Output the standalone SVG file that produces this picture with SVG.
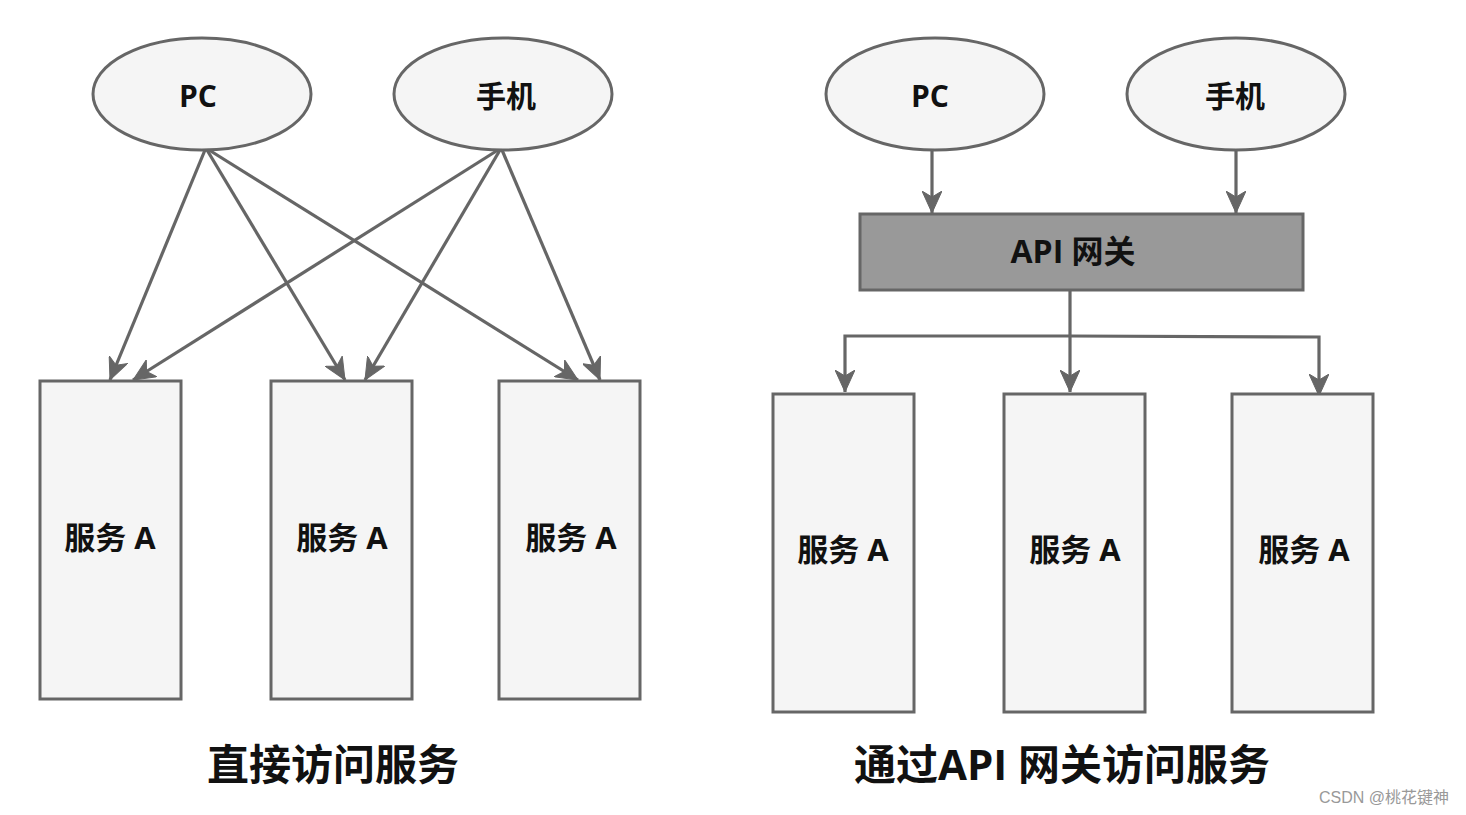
<svg xmlns="http://www.w3.org/2000/svg" width="1466" height="815" viewBox="0 0 1466 815">
<style>
.node{fill:#f5f5f5;stroke:#666666;stroke-width:3}
.gw{fill:#999999;stroke:#666666;stroke-width:3}
.t{font-family:"Open Sans","Noto Sans CJK SC",sans-serif;font-weight:bold;fill:#111111;text-anchor:middle;dominant-baseline:central}
.ln{fill:none;stroke:#666666;stroke-width:3.2}
.title{font-family:"Open Sans","Noto Sans CJK SC",sans-serif;font-weight:bold;font-size:42px;fill:#111111;text-anchor:middle;dominant-baseline:central}
</style>
<defs>
<marker id="ah" markerUnits="userSpaceOnUse" markerWidth="24" markerHeight="20" refX="22" refY="10" orient="auto" viewBox="0 0 24 20">
<path d="M0,0 L22,10 L0,20 L6,10 z" fill="#666666" stroke="#666666" stroke-width="1"/>
</marker>
</defs>
<rect width="1466" height="815" fill="#ffffff"/>
<g id="connectors">
<line class="ln" x1="205" y1="150" x2="110" y2="380" marker-end="url(#ah)"/>
<line class="ln" x1="207" y1="150" x2="345" y2="380" marker-end="url(#ah)"/>
<line class="ln" x1="209" y1="150" x2="578" y2="380" marker-end="url(#ah)"/>
<line class="ln" x1="498" y1="150" x2="133" y2="380" marker-end="url(#ah)"/>
<line class="ln" x1="500" y1="150" x2="365" y2="380" marker-end="url(#ah)"/>
<line class="ln" x1="502" y1="150" x2="600" y2="380" marker-end="url(#ah)"/>
<line class="ln" x1="932" y1="150" x2="932" y2="213" marker-end="url(#ah)"/>
<line class="ln" x1="1236" y1="150" x2="1236" y2="213" marker-end="url(#ah)"/>
<line class="ln" x1="1070" y1="290" x2="1070" y2="392" marker-end="url(#ah)"/>
<polyline class="ln" points="1070,336 845,336 845,392" marker-end="url(#ah)"/>
<polyline class="ln" points="1070,336 1319,337 1319,396" marker-end="url(#ah)"/>
</g>
<g id="pc-left"><ellipse class="node" cx="202" cy="94" rx="109" ry="56"/><text class="t" x="198" y="95" font-size="30">PC</text></g>
<g id="phone-left"><ellipse class="node" cx="503" cy="94" rx="109" ry="56"/><text class="t" x="506" y="95" font-size="30">手机</text></g>
<g id="svc-l1"><rect class="node" x="40" y="381" width="141" height="318"/><text class="t" x="110" y="537" font-size="31">服务 A</text></g>
<g id="svc-l2"><rect class="node" x="271" y="381" width="141" height="318"/><text class="t" x="342" y="537" font-size="31">服务 A</text></g>
<g id="svc-l3"><rect class="node" x="499" y="381" width="141" height="318"/><text class="t" x="571" y="537" font-size="31">服务 A</text></g>
<g id="pc-right"><ellipse class="node" cx="935" cy="94" rx="109" ry="56"/><text class="t" x="930" y="95" font-size="30">PC</text></g>
<g id="phone-right"><ellipse class="node" cx="1236" cy="94" rx="109" ry="56"/><text class="t" x="1235" y="95" font-size="30">手机</text></g>
<g id="gateway"><rect class="gw" x="860" y="214" width="443" height="76"/><text class="t" x="1073" y="250" font-size="32">API 网关</text></g>
<g id="svc-r1"><rect class="node" x="773" y="394" width="141" height="318"/><text class="t" x="843" y="549" font-size="31">服务 A</text></g>
<g id="svc-r2"><rect class="node" x="1004" y="394" width="141" height="318"/><text class="t" x="1075" y="549" font-size="31">服务 A</text></g>
<g id="svc-r3"><rect class="node" x="1232" y="394" width="141" height="318"/><text class="t" x="1304" y="549" font-size="31">服务 A</text></g>
<g id="titles">
<text class="title" x="333" y="763">直接访问服务</text>
<text class="title" x="1062" y="763">通过API 网关访问服务</text>
<text x="1384" y="797" font-family="'Liberation Sans','Noto Sans CJK SC',sans-serif" font-size="16" fill="#999999" text-anchor="middle" dominant-baseline="central">CSDN @桃花键神</text>
</g>
</svg>
